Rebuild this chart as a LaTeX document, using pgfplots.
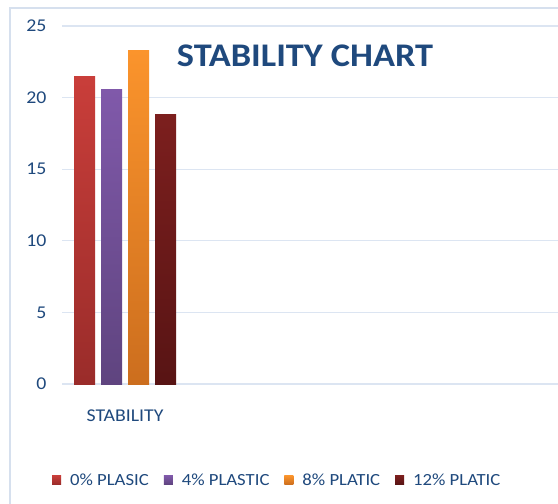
\documentclass[border=0pt]{standalone}
\usepackage{fontspec}
\setmainfont[FakeStretch=1.1]{Carlito}
\usepackage{pgfplots}
\pgfplotsset{compat=1.18}
\definecolor{txtblue}{HTML}{1F497D}
\definecolor{gridblue}{HTML}{DCE5F2}
\definecolor{frameblue}{HTML}{D6E0EE}
\definecolor{c1t}{HTML}{C93E3A}\definecolor{c1b}{HTML}{9A2C2A}
\definecolor{c2t}{HTML}{8059AA}\definecolor{c2b}{HTML}{5F447F}
\definecolor{c3t}{HTML}{FB942C}\definecolor{c3b}{HTML}{CC6E1E}
\definecolor{c4t}{HTML}{7C1F1E}\definecolor{c4b}{HTML}{581414}
\begin{document}
\begin{tikzpicture}
\useasboundingbox (0,0) rectangle (558bp,-504bp);
\clip (0,0) rectangle (558bp,-504bp);
\fill[white] (0,0) rectangle (558bp,-504bp);
\draw[frameblue, line width=2bp] (10bp,-600bp) -- (10bp,-8bp) -- (600bp,-8bp);
\begin{axis}[
  at={(62bp,-384bp)}, anchor=south west,
  scale only axis, width=504bp, height=358bp,
  xmin=-0.5, xmax=3.5, ymin=0, ymax=25,
  ytick={0,5,...,25}, xtick={0}, xticklabels={STABILITY},
  axis line style={draw=none},
  major tick length=0pt,
  ymajorgrids, grid style={gridblue, line width=1.2bp},
  ybar=6bp, bar width=21bp,
  tick label style={font=\fontsize{18bp}{20bp}\selectfont, text=txtblue},
  yticklabel style={xshift=-12bp},
  xticklabel style={yshift=-22bp},
  /pgf/number format/assume math mode=true,
  legend columns=4,
  legend image code/.code={\fill[#1] (0bp,-4.5bp) rectangle (9bp,4.5bp);},
  legend style={at={(-0.02,-0.268)}, anchor=west, draw=none, fill=none,
    inner sep=0pt, font=\fontsize{17bp}{19bp}\selectfont, text=txtblue,
    /tikz/every odd column/.append style={column sep=7bp},
    /tikz/every even column/.append style={column sep=13bp}},
]
\addplot+[draw=none, top color=c1t, bottom color=c1b] coordinates {(0,21.5)};
\addplot+[draw=none, top color=c2t, bottom color=c2b] coordinates {(0,20.6)};
\addplot+[draw=none, top color=c3t, bottom color=c3b] coordinates {(0,23.3)};
\addplot+[draw=none, top color=c4t, bottom color=c4b] coordinates {(0,18.8)};
\legend{0\% PLASIC, 4\% PLASTIC, 8\% PLATIC, 12\% PLATIC}
\end{axis}
\node[font=\bfseries\fontsize{33bp}{36bp}\selectfont, text=txtblue] at (305bp,-55.5bp) {STABILITY CHART};
\end{tikzpicture}
\end{document}
